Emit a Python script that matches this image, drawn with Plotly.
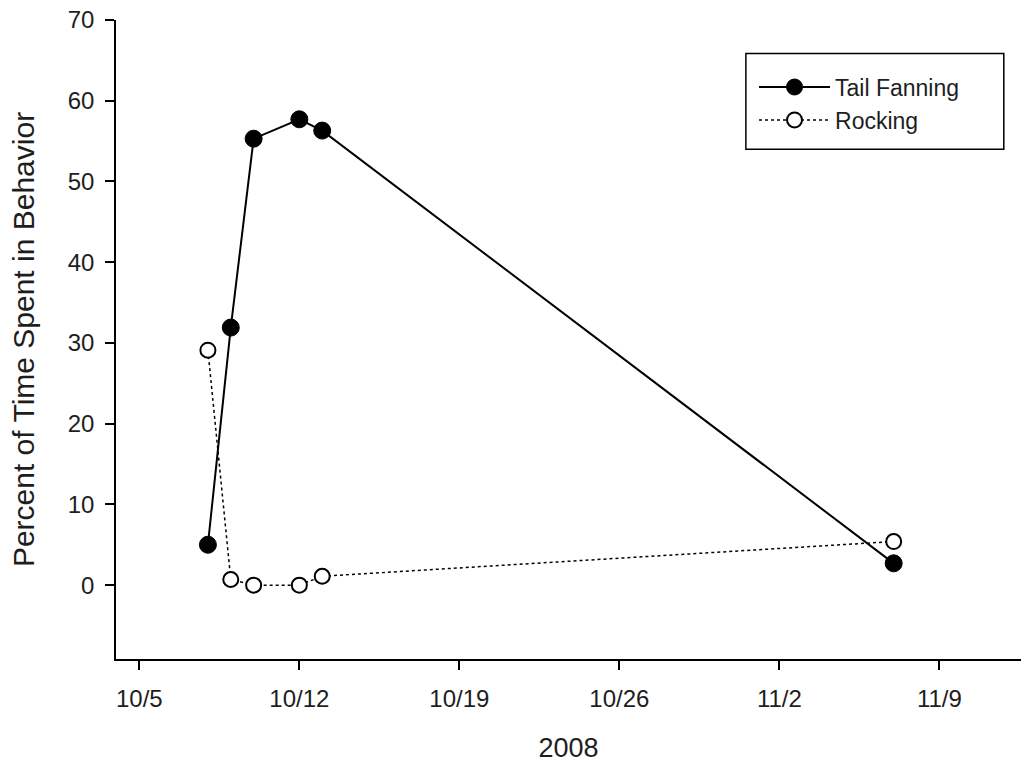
import plotly.graph_objects as go

dates = ["2008-10-08", "2008-10-09", "2008-10-10", "2008-10-12", "2008-10-13", "2008-11-07"]
tail_fanning = [5.0, 31.9, 55.3, 57.7, 56.3, 2.7]
rocking = [29.1, 0.7, 0.0, 0.0, 1.1, 5.4]

tick_dates = ["2008-10-05", "2008-10-12", "2008-10-19", "2008-10-26", "2008-11-02", "2008-11-09"]
tick_labels = ["10/5", "10/12", "10/19", "10/26", "11/2", "11/9"]
y_ticks = [0, 10, 20, 30, 40, 50, 60, 70]

FONT = "Liberation Sans, Arial, sans-serif"
TXT = "#1e1e1e"

fig = go.Figure()
fig.add_trace(go.Scatter(
    x=dates, y=tail_fanning, name="Tail Fanning", mode="lines+markers",
    line=dict(color="black", width=2),
    marker=dict(symbol="circle", size=17, color="black", line=dict(color="black", width=1)),
))
fig.add_trace(go.Scatter(
    x=dates, y=rocking, name="Rocking", mode="lines+markers",
    line=dict(color="black", width=1.5, dash="dot"),
    marker=dict(symbol="circle", size=15, color="white", line=dict(color="black", width=2)),
))

fig.update_layout(
    width=1021, height=766,
    margin=dict(l=116, r=0, t=20, b=107),
    paper_bgcolor="white", plot_bgcolor="white",
    font=dict(family=FONT, size=24, color=TXT),
    showlegend=True,
    legend=dict(
        x=0.705, y=0.9287, xanchor="left", yanchor="top",
        bgcolor="rgba(0,0,0,0)", borderwidth=0,
        font=dict(size=23, color=TXT),
        itemwidth=71, tracegroupgap=0,
    ),
    shapes=[dict(type="rect", xref="paper", yref="paper",
                 x0=0.696, x1=0.981, y0=0.7976, y1=0.9476,
                 line=dict(color="black", width=1.5))],
)

fig.update_xaxes(
    type="date",
    range=["2008-10-03 23:30", "2008-11-12 13:40"],
    tickvals=tick_dates, ticktext=tick_labels,
    ticks="outside", ticklen=9, tickwidth=1.5, tickcolor="black",
    showline=True, linecolor="black", linewidth=1.5,
    showgrid=False, zeroline=False,
    tickfont=dict(size=24, color=TXT),
    title=dict(text="2008", font=dict(size=27, color=TXT), standoff=28),
    ticklabelstandoff=8,
)
fig.update_yaxes(
    range=[-9.15, 70],
    tickvals=y_ticks,
    ticks="outside", ticklen=9, tickwidth=1.5, tickcolor="black",
    showline=True, linecolor="black", linewidth=1.5,
    showgrid=False, zeroline=False,
    tickfont=dict(size=24, color=TXT),
    title=dict(text="Percent of Time Spent in Behavior", font=dict(size=30, color=TXT), standoff=24),
    ticklabelstandoff=6,
)

fig.write_html("out.html", config={"displayModeBar": False},
               post_script="document.body.style.margin='0px';")
